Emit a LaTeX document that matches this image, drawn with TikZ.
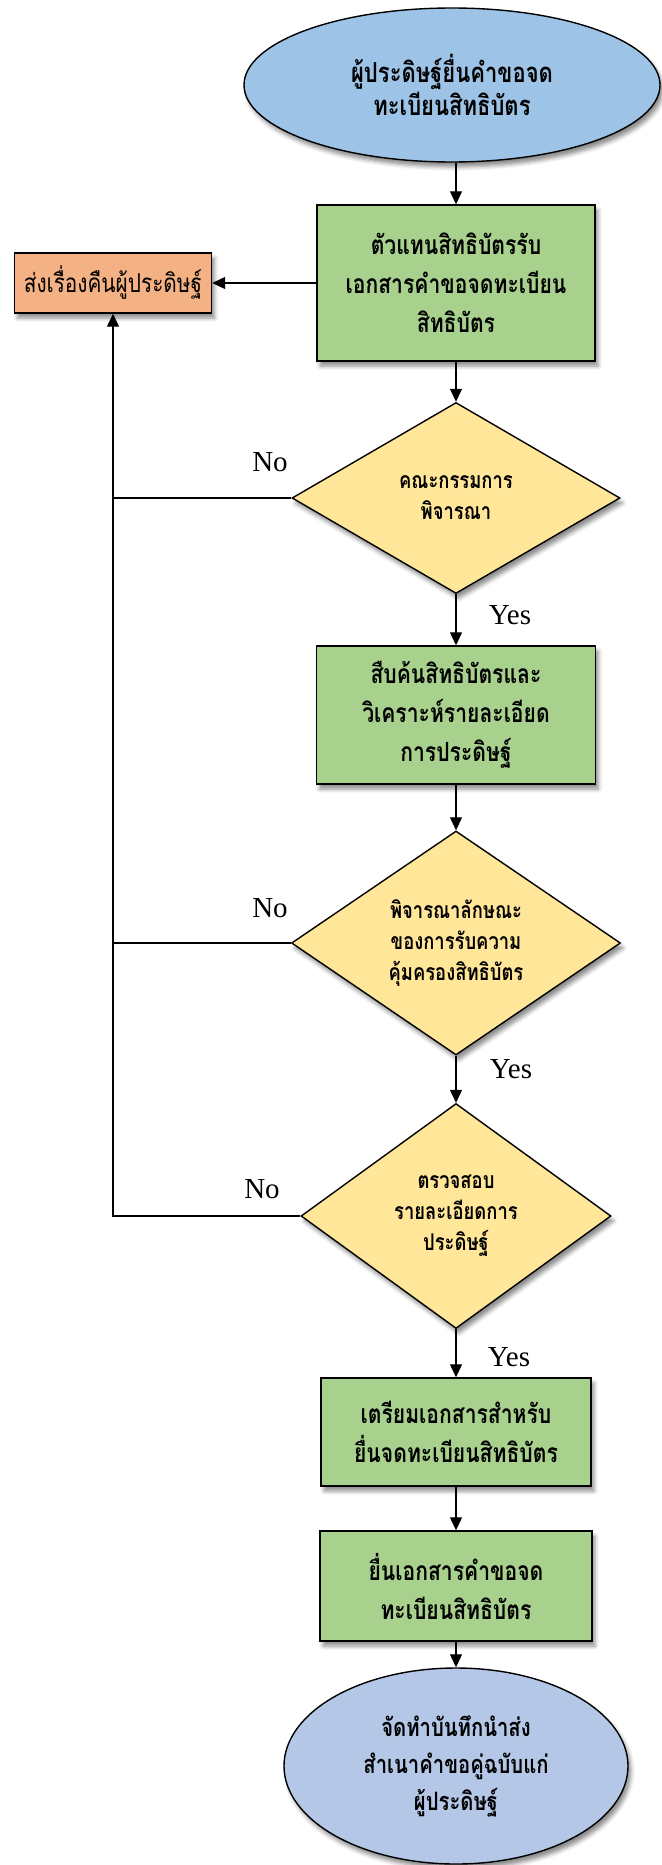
\documentclass[tikz,border=0pt]{standalone}
\usepackage{fontspec}
\setmainfont{Liberation Serif}
\newfontfamily\thaifont[Script=Thai,FakeStretch=0.8]{Loma}
\usetikzlibrary{shapes.geometric,arrows.meta,shadows.blur}

\definecolor{startblue}{HTML}{9DC3E6}
\definecolor{endblue}{HTML}{B4C7E7}
\definecolor{stepgreen}{HTML}{A9D18E}
\definecolor{backorange}{HTML}{F4B183}
\definecolor{askyellow}{HTML}{FFE699}

\tikzset{
  shape_base/.style={draw, line width=1.4pt, align=center, inner sep=0pt,
    blur shadow={shadow xshift=3pt, shadow yshift=-5pt, shadow blur radius=4pt, shadow opacity=45}},
  terminal/.style={shape_base, ellipse},
  process/.style={shape_base, rectangle, fill=stepgreen, font=\thaifont\bfseries\fontsize{26.4}{39}\selectfont},
  decision/.style={shape_base, diamond, fill=askyellow, font=\thaifont\bfseries\fontsize{23}{31}\selectfont},
  answer/.style={font=\fontsize{29}{34}\selectfont, inner sep=0pt},
  flow/.style={line width=1.2pt, -{Triangle[length=13pt,width=12pt]}},
  back/.style={line width=1.2pt}
}

\begin{document}
\begin{tikzpicture}[x=1pt,y=-1pt]
  \useasboundingbox (0,0) rectangle (661,1865);

  \node (patent_request) at (452,85) [terminal, fill=startblue, minimum width=416pt, minimum height=154pt,
    font=\thaifont\bfseries\fontsize{27.5}{33}\selectfont]
    {ผู้ประดิษฐ์ยื่นคำขอจด\\ทะเบียนสิทธิบัตร};
  \node (agent_receive) at (456,283) [process, minimum width=278pt, minimum height=156pt]
    {ตัวแทนสิทธิบัตรรับ\\เอกสารคำขอจดทะเบียน\\สิทธิบัตร};
  \node (return_inventor) at (113,283) [shape_base, fill=backorange, minimum width=197pt, minimum height=60pt,
    font=\thaifont\fontsize{26}{30}\selectfont]
    {ส่งเรื่องคืนผู้ประดิษฐ์};
  \node (board_check) at (456,498) [decision, shape aspect=1.7, minimum width=328pt, minimum height=191pt]
    {คณะกรรมการ\\พิจารณา};
  \node (search_analyse) at (456,715) [process, minimum width=279pt, minimum height=138pt]
    {สืบค้นสิทธิบัตรและ\\วิเคราะห์รายละเอียด\\การประดิษฐ์};
  \node (scope_check) at (456,943) [decision, shape aspect=1.47, minimum width=329pt, minimum height=224pt]
    {พิจารณาลักษณะ\\ของการรับความ\\คุ้มครองสิทธิบัตร};
  \node (detail_check) at (456,1216) [decision, shape aspect=1.38, minimum width=310pt, minimum height=225pt]
    {ตรวจสอบ\\รายละเอียดการ\\ประดิษฐ์};
  \node (prepare_docs) at (456,1432) [process, minimum width=270pt, minimum height=108pt]
    {เตรียมเอกสารสำหรับ\\ยื่นจดทะเบียนสิทธิบัตร};
  \node (file_request) at (456,1586) [process, minimum width=272pt, minimum height=110pt]
    {ยื่นเอกสารคำขอจด\\ทะเบียนสิทธิบัตร};
  \node (send_copy) at (456,1766) [terminal, fill=endblue, minimum width=344pt, minimum height=196pt,
    font=\thaifont\bfseries\fontsize{25.3}{37}\selectfont]
    {จัดทำบันทึกนำส่ง\\สำเนาคำขอคู่ฉบับแก่\\ผู้ประดิษฐ์};

  % main line
  \draw[flow] (agent_receive.north |- patent_request.south) -- (agent_receive.north);
  \draw[flow] (agent_receive.south) -- (board_check.north);
  \draw[flow] (board_check.south) -- (search_analyse.north);
  \draw[flow] (search_analyse.south) -- (scope_check.north);
  \draw[flow] (scope_check.south) -- (detail_check.north);
  \draw[flow] (detail_check.south) -- (prepare_docs.north);
  \draw[flow] (prepare_docs.south) -- (file_request.north);
  \draw[flow] (file_request.south) -- (send_copy.north);

  % back to inventor
  \draw[flow] (node cs:name=agent_receive,anchor=west) -- (node cs:name=return_inventor,anchor=east);
  \draw[back] (board_check.west) -- (board_check.west -| return_inventor.south);
  \draw[back] (scope_check.west) -- (scope_check.west -| return_inventor.south);
  \draw[flow] (detail_check.west) -| (return_inventor.south);

  \node (no_board) at (270,462) [answer] {No};
  \node (no_scope) at (270,908) [answer] {No};
  \node (no_detail) at (262,1189) [answer] {No};
  \node (yes_board) at (510,615) [answer] {Yes};
  \node (yes_scope) at (511,1069) [answer] {Yes};
  \node (yes_detail) at (509,1357) [answer] {Yes};
\end{tikzpicture}
\end{document}
